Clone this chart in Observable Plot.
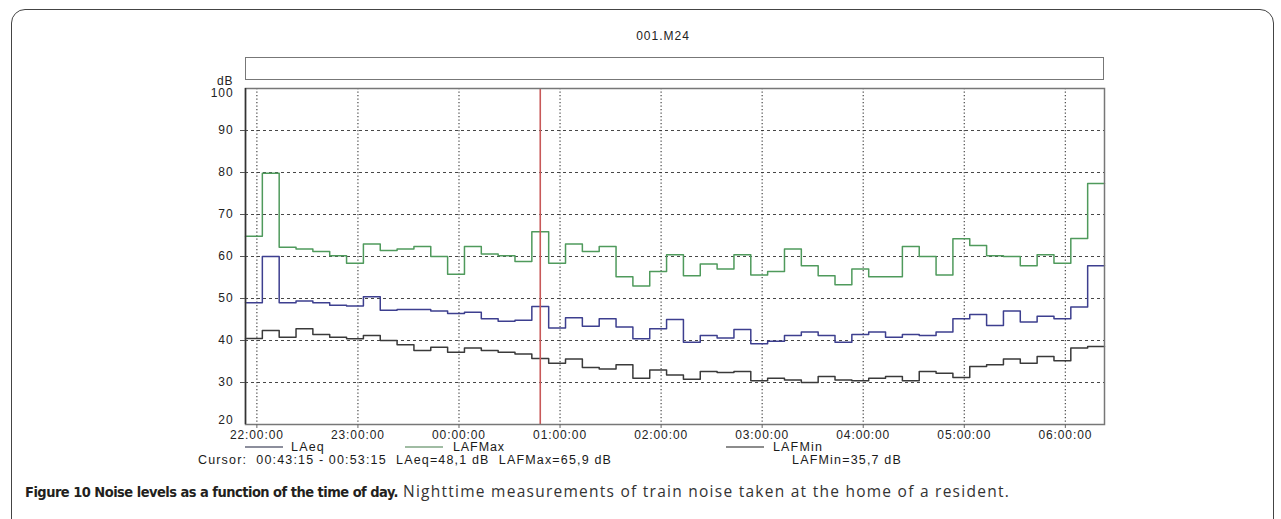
<!DOCTYPE html>
<html>
<head>
<meta charset="utf-8">
<script src="https://cdn.jsdelivr.net/npm/d3@7"></script>
<script src="https://cdn.jsdelivr.net/npm/@observablehq/plot@0.6"></script>
<style>
  html, body { margin: 0; padding: 0; background: #fff; }
  #wrap { position: relative; width: 1281px; height: 519px; overflow: hidden; font-family: "Liberation Sans", Arial, sans-serif; color: #222; }
  #outer { position: absolute; left: 11px; top: 9px; width: 1263px; height: 540px; border: 1.6px solid #444; border-radius: 14px; box-sizing: border-box; }
  #title { position: absolute; left: 563px; width: 200px; top: 29px; text-align: center; font-size: 12px; letter-spacing: 1px; color: #222; }
  #topbox { position: absolute; left: 245px; top: 57px; width: 859px; height: 23px; border: 1.5px solid #777; box-sizing: border-box; }
  #chart { position: absolute; left: 0; top: 0; }
  #chart svg text { letter-spacing: 0.9px; }
  .lg { position: absolute; font-size: 12.5px; white-space: pre; line-height: 14px; color: #1a1a1a; }
  .lgline { position: absolute; height: 2px; background: #888; }
  .cap { position: absolute; top: 483px; white-space: pre; line-height: 18px; }
  #capB { left: 25px; font-size: 14.5px; font-family: "DejaVu Sans Condensed", "Liberation Sans Narrow", sans-serif; font-weight: bold; color: #231f20; }
  #capR { left: 403px; top: 482px; font-size: 15.5px; font-family: "Open Sans", "Liberation Sans", sans-serif; font-weight: 400; color: #333; }
</style>
</head>
<body>
<div id="wrap">
  <div id="outer"></div>
  <div id="title"></div>
  <div id="topbox"></div>
  <div id="chart"></div>
</div>
<script>
// ---- data ----
const chartTitle = "001.M24";
const seriesNames = ["LAeq", "LAFMax", "LAFMin"];
const seriesColors = ["#3d3f8f", "#4f9a5c", "#3a3a3a"];
const legendColors = ["#8c8e9c", "#a0bca3", "#8c8c8c"];
const startTime = "2000-01-01T21:53:15Z";   // first 10-minute interval start
const intervalMinutes = 10;
const hourTickLabels = ["22:00:00","23:00:00","00:00:00","01:00:00","02:00:00","03:00:00","04:00:00","05:00:00","06:00:00"];
const yTicks = [20, 30, 40, 50, 60, 70, 80, 90, 100];

const laeq = [49.0,60.0,49.0,49.4,49.0,48.4,48.2,50.4,47.2,47.4,47.4,47.0,46.4,46.7,45.2,44.6,44.8,48.1,
              43.0,45.4,43.4,45.2,43.2,40.4,42.8,45.0,39.6,41.2,40.6,42.6,39.2,39.8,41.2,42.0,41.2,39.6,
              41.4,42.0,40.8,41.4,41.2,42.0,45.2,46.2,43.6,47.0,44.4,45.8,45.2,48.0,57.8];
const lafmax = [64.8,79.8,62.2,61.8,61.2,60.2,58.4,63.0,61.4,61.8,62.4,60.0,55.8,62.4,60.6,60.2,58.8,65.9,
                58.4,63.0,61.2,62.4,55.2,53.0,56.4,60.4,55.4,58.2,57.0,60.4,55.6,56.4,61.8,57.8,55.4,53.3,
                57.0,55.2,55.2,62.4,60.0,55.6,64.2,62.6,60.2,60.0,57.8,60.4,58.4,64.3,77.4];
const lafmin = [40.5,42.4,40.8,42.8,41.4,40.8,40.4,41.2,40.0,39.0,37.6,38.4,37.2,38.2,37.6,37.2,36.8,35.7,
                34.6,35.6,33.6,33.2,34.2,31.0,33.0,31.8,30.8,32.6,32.4,32.6,30.4,31.0,30.6,30.0,31.4,30.6,
                30.4,31.0,31.4,30.4,32.6,32.2,31.2,33.8,34.2,35.6,34.6,36.2,35.2,38.2,38.6];
const cursorFrom = "00:43:15";
const cursorTo = "00:53:15";
const cursorIndex = 17;
const captionBold = "Figure 10 Noise levels as a function of the time of day.";
const captionText = "Nighttime measurements of train noise taken at the home of a resident.";

// ---- build table ----
const t0 = new Date(startTime);
const stepMs = intervalMinutes * 60000;
const seriesValues = [laeq, lafmax, lafmin];
const rows = [];
seriesValues.forEach((vals, s) => {
  vals.forEach((v, i) => rows.push({series: seriesNames[s], time: new Date(+t0 + i * stepMs), value: v}));
  rows.push({series: seriesNames[s], time: new Date(+t0 + vals.length * stepMs), value: vals[vals.length - 1]});
});
const tEnd = new Date(+t0 + laeq.length * stepMs);
const hourTicks = hourTickLabels.map(l => {
  const h = +l.slice(0, 2);
  return new Date(Date.UTC(2000, 0, h >= 12 ? 1 : 2, h, 0, 0));
});
const cursorMid = new Date(+t0 + (cursorIndex + 0.5) * stepMs);
const midTicks = yTicks.slice(1, -1);

const chart = Plot.plot({
  width: 1281,
  height: 470,
  marginLeft: 245,
  marginRight: 177,
  marginTop: 88,
  marginBottom: 46,
  x: {type: "utc", domain: [t0, tEnd]},
  y: {domain: [yTicks[0], yTicks[yTicks.length - 1]]},
  color: {domain: seriesNames, range: seriesColors},
  style: {fontFamily: "'Liberation Sans', Arial, sans-serif", fontSize: "12px", color: "#222", background: "transparent", overflow: "visible"},
  marks: [
    Plot.gridY(midTicks, {stroke: "#333", strokeOpacity: 0.9, strokeDasharray: "3,3", strokeWidth: 1}),
    Plot.gridX(hourTicks, {stroke: "#333", strokeOpacity: 0.9, strokeDasharray: "1.3,2.2", strokeWidth: 1.2}),
    Plot.line(rows, {x: "time", y: "value", z: "series", stroke: "series", curve: "step-after", strokeWidth: 1.5}),
    Plot.ruleX([cursorMid], {stroke: "#c85858", strokeWidth: 1.6}),
    Plot.frame({stroke: "#777", strokeWidth: 1.5}),
    Plot.ruleX([t0], {stroke: "#333", strokeWidth: 1.5}),
    Plot.axisX(hourTicks, {tickFormat: d3.utcFormat("%H:%M:%S"), tickSize: 4, tickPadding: 2, label: null, stroke: "#666"}),
    Plot.axisY(midTicks, {tickSize: 5, tickPadding: 7, label: null, stroke: "#555"}),
    Plot.axisY([yTicks[yTicks.length - 1]], {tickSize: 0, tickPadding: 12, dy: 5, label: null}),
    Plot.axisY([yTicks[0]], {tickSize: 0, tickPadding: 12, dy: -4, label: null}),
    Plot.text(["dB"], {frameAnchor: "top-left", dx: -12, dy: -12, textAnchor: "end"})
  ]
});
document.getElementById("chart").appendChild(chart);
document.getElementById("title").textContent = chartTitle;

// ---- legend & cursor rows ----
const wrap = document.getElementById("wrap");
function add(cls, css, text, id) {
  const d = document.createElement("div");
  d.className = cls;
  if (id) d.id = id;
  Object.assign(d.style, css);
  if (text != null) d.textContent = text;
  wrap.appendChild(d);
  return d;
}
// stretch a text element to a given width by adjusting letter-spacing
function fit(el, target) {
  el.style.letterSpacing = "0px";
  const w = el.getBoundingClientRect().width;
  const n = el.textContent.length;
  el.style.letterSpacing = ((target - w) / n) + "px";
}
const legendPos = [[245, 291, 34], [405, 453, 52], [726, 773, 50]];
seriesNames.forEach((n, i) => {
  add("lgline", {left: legendPos[i][0] + "px", top: "446px", width: "38px", background: legendColors[i]});
  const t = add("lg", {left: legendPos[i][1] + "px", top: "440px"}, n);
  fit(t, legendPos[i][2]);
});
const fmt = v => v.toFixed(1).replace(".", ",");
const c1 = add("lg", {left: "198px", top: "453px"},
  `Cursor:  ${cursorFrom} - ${cursorTo}  ${seriesNames[0]}=${fmt(laeq[cursorIndex])} dB  ${seriesNames[1]}=${fmt(lafmax[cursorIndex])} dB`);
fit(c1, 414);
const c2 = add("lg", {left: "792px", top: "453px"}, `${seriesNames[2]}=${fmt(lafmin[cursorIndex])} dB`);
fit(c2, 110);

const cb = add("cap", {}, captionBold, "capB");
fit(cb, 373);
const cr = add("cap", {}, captionText, "capR");
fit(cr, 607);
</script>
</body>
</html>
